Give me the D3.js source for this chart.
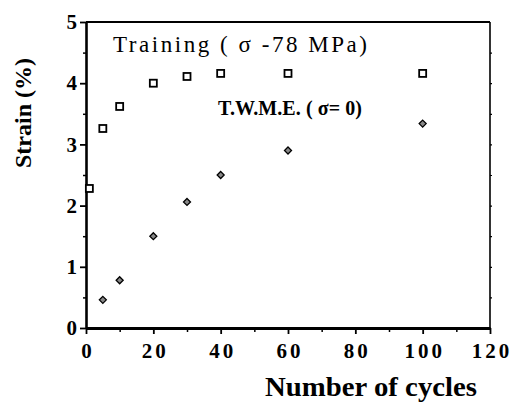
<!DOCTYPE html>
<html>
<head>
<meta charset="utf-8">
<script src="https://cdn.jsdelivr.net/npm/d3@7"></script>
<style>
  body { margin: 0; background: #fff; }
  text { font-family: "Liberation Serif", "DejaVu Serif", serif; fill: #000; }
</style>
</head>
<body>
<svg id="chart" width="511" height="402"></svg>
<script>
// training (sigma = 78 MPa) and two-way memory effect (sigma = 0)
const trainCycles = [1, 5, 10, 20, 30, 40, 60, 100]
const trainStrain = [2.28, 3.26, 3.62, 4.0, 4.11, 4.16, 4.16, 4.16]
const twmeCycles = [5, 10, 20, 30, 40, 60, 100]
const twmeStrain = [0.46, 0.78, 1.5, 2.06, 2.5, 2.9, 3.34]
const xTicks = [0, 20, 40, 60, 80, 100, 120]
const yTicks = [0, 1, 2, 3, 4, 5]

let svg = d3.select('#chart')
let margin = {left: 86, right: 21, top: 22, bottom: 74},
    w = 511 - margin.left - margin.right,
    h = 402 - margin.top - margin.bottom

let x = d3.scaleLinear().domain([0, 120]).range([0, w])
let y = d3.scaleLinear().domain([0, 5]).range([h, 0])

let g = svg.append('g').attr('transform', 'translate(' + margin.left + ',' + margin.top + ')')

// frame: top and right thinner
g.append('line').attr('x1', 0).attr('x2', w).attr('y1', 0).attr('y2', 0)
    .attr('stroke', '#000').attr('stroke-width', 2.2)
g.append('line').attr('x1', w).attr('x2', w).attr('y1', 0).attr('y2', h)
    .attr('stroke', '#000').attr('stroke-width', 1.6)

// minor ticks
g.append('g').attr('transform', 'translate(0,' + h + ')')
    .call(d3.axisBottom(x).tickValues(d3.range(10, 120, 20)).tickSize(4).tickFormat(''))
    .call(a => a.select('.domain').remove())
    .selectAll('line').attr('stroke-width', 1.5)
g.append('g')
    .call(d3.axisLeft(y).tickValues(d3.range(0.5, 5, 1)).tickSize(3).tickFormat(''))
    .call(a => a.select('.domain').remove())
    .selectAll('line').attr('stroke-width', 1.5)
g.append('g').attr('transform', 'translate(' + w + ',0)')
    .call(d3.axisRight(y).tickValues(d3.range(0.5, 5, 0.5)).tickSize(2).tickFormat(''))
    .call(a => a.select('.domain').remove())
    .selectAll('line').attr('stroke-width', 1.2)

// major axes
let xAxis = g.append('g').attr('transform', 'translate(0,' + h + ')')
    .call(d3.axisBottom(x).tickValues(xTicks).tickSize(6).tickSizeOuter(0).tickPadding(9))
xAxis.select('.domain').attr('stroke-width', 3)
xAxis.selectAll('.tick line').attr('stroke-width', 1.8)
xAxis.selectAll('.tick text')
    .style('font-size', '21px').style('font-weight', 'bold').style('letter-spacing', '3px')
    .attr('dx', '1.5px').attr('fill', '#000')

let yAxis = g.append('g')
    .call(d3.axisLeft(y).tickValues(yTicks).tickFormat(d3.format('d'))
        .tickSize(6).tickSizeOuter(0).tickPadding(3))
yAxis.select('.domain').attr('stroke-width', 2.6)
yAxis.selectAll('.tick line').attr('stroke-width', 1.8)
yAxis.selectAll('.tick text')
    .style('font-size', '21px').style('font-weight', 'bold').attr('fill', '#000')

// training squares
g.selectAll('.sq').data(trainCycles).enter().append('rect')
    .attr('class', 'sq')
    .attr('x', (d, i) => x(d) - 3.5)
    .attr('y', (d, i) => y(trainStrain[i]) - 3.5)
    .attr('width', 7).attr('height', 7)
    .attr('fill', '#fff').attr('stroke', '#000').attr('stroke-width', 1.8)

// twme diamonds
g.selectAll('.dm').data(twmeCycles).enter().append('path')
    .attr('class', 'dm')
    .attr('transform', (d, i) => 'translate(' + x(d) + ',' + y(twmeStrain[i]) + ')')
    .attr('d', 'M0,-3.5L3.5,0L0,3.5L-3.5,0Z')
    .attr('fill', '#888').attr('stroke', '#000').attr('stroke-width', 1.3)

// annotations
svg.append('text').attr('x', 113).attr('y', 52)
    .attr('textLength', 254).attr('lengthAdjust', 'spacing')
    .style('font-size', '23px')
    .text('Training ( σ -78 MPa)')
svg.append('text').attr('x', 218).attr('y', 115)
    .attr('textLength', 144).attr('lengthAdjust', 'spacing')
    .style('font-size', '20px').style('font-weight', 'bold')
    .text('T.W.M.E. ( σ= 0)')

// axis titles
svg.append('text')
    .attr('transform', 'translate(31,113) rotate(-90)')
    .attr('text-anchor', 'middle')
    .style('font-size', '24px').style('font-weight', 'bold')
    .text('Strain (%)')
svg.append('text').attr('x', 371).attr('y', 396)
    .attr('text-anchor', 'middle')
    .attr('textLength', 212).attr('lengthAdjust', 'spacingAndGlyphs')
    .style('font-size', '28px').style('font-weight', 'bold')
    .text('Number of cycles')
</script>
</body>
</html>
